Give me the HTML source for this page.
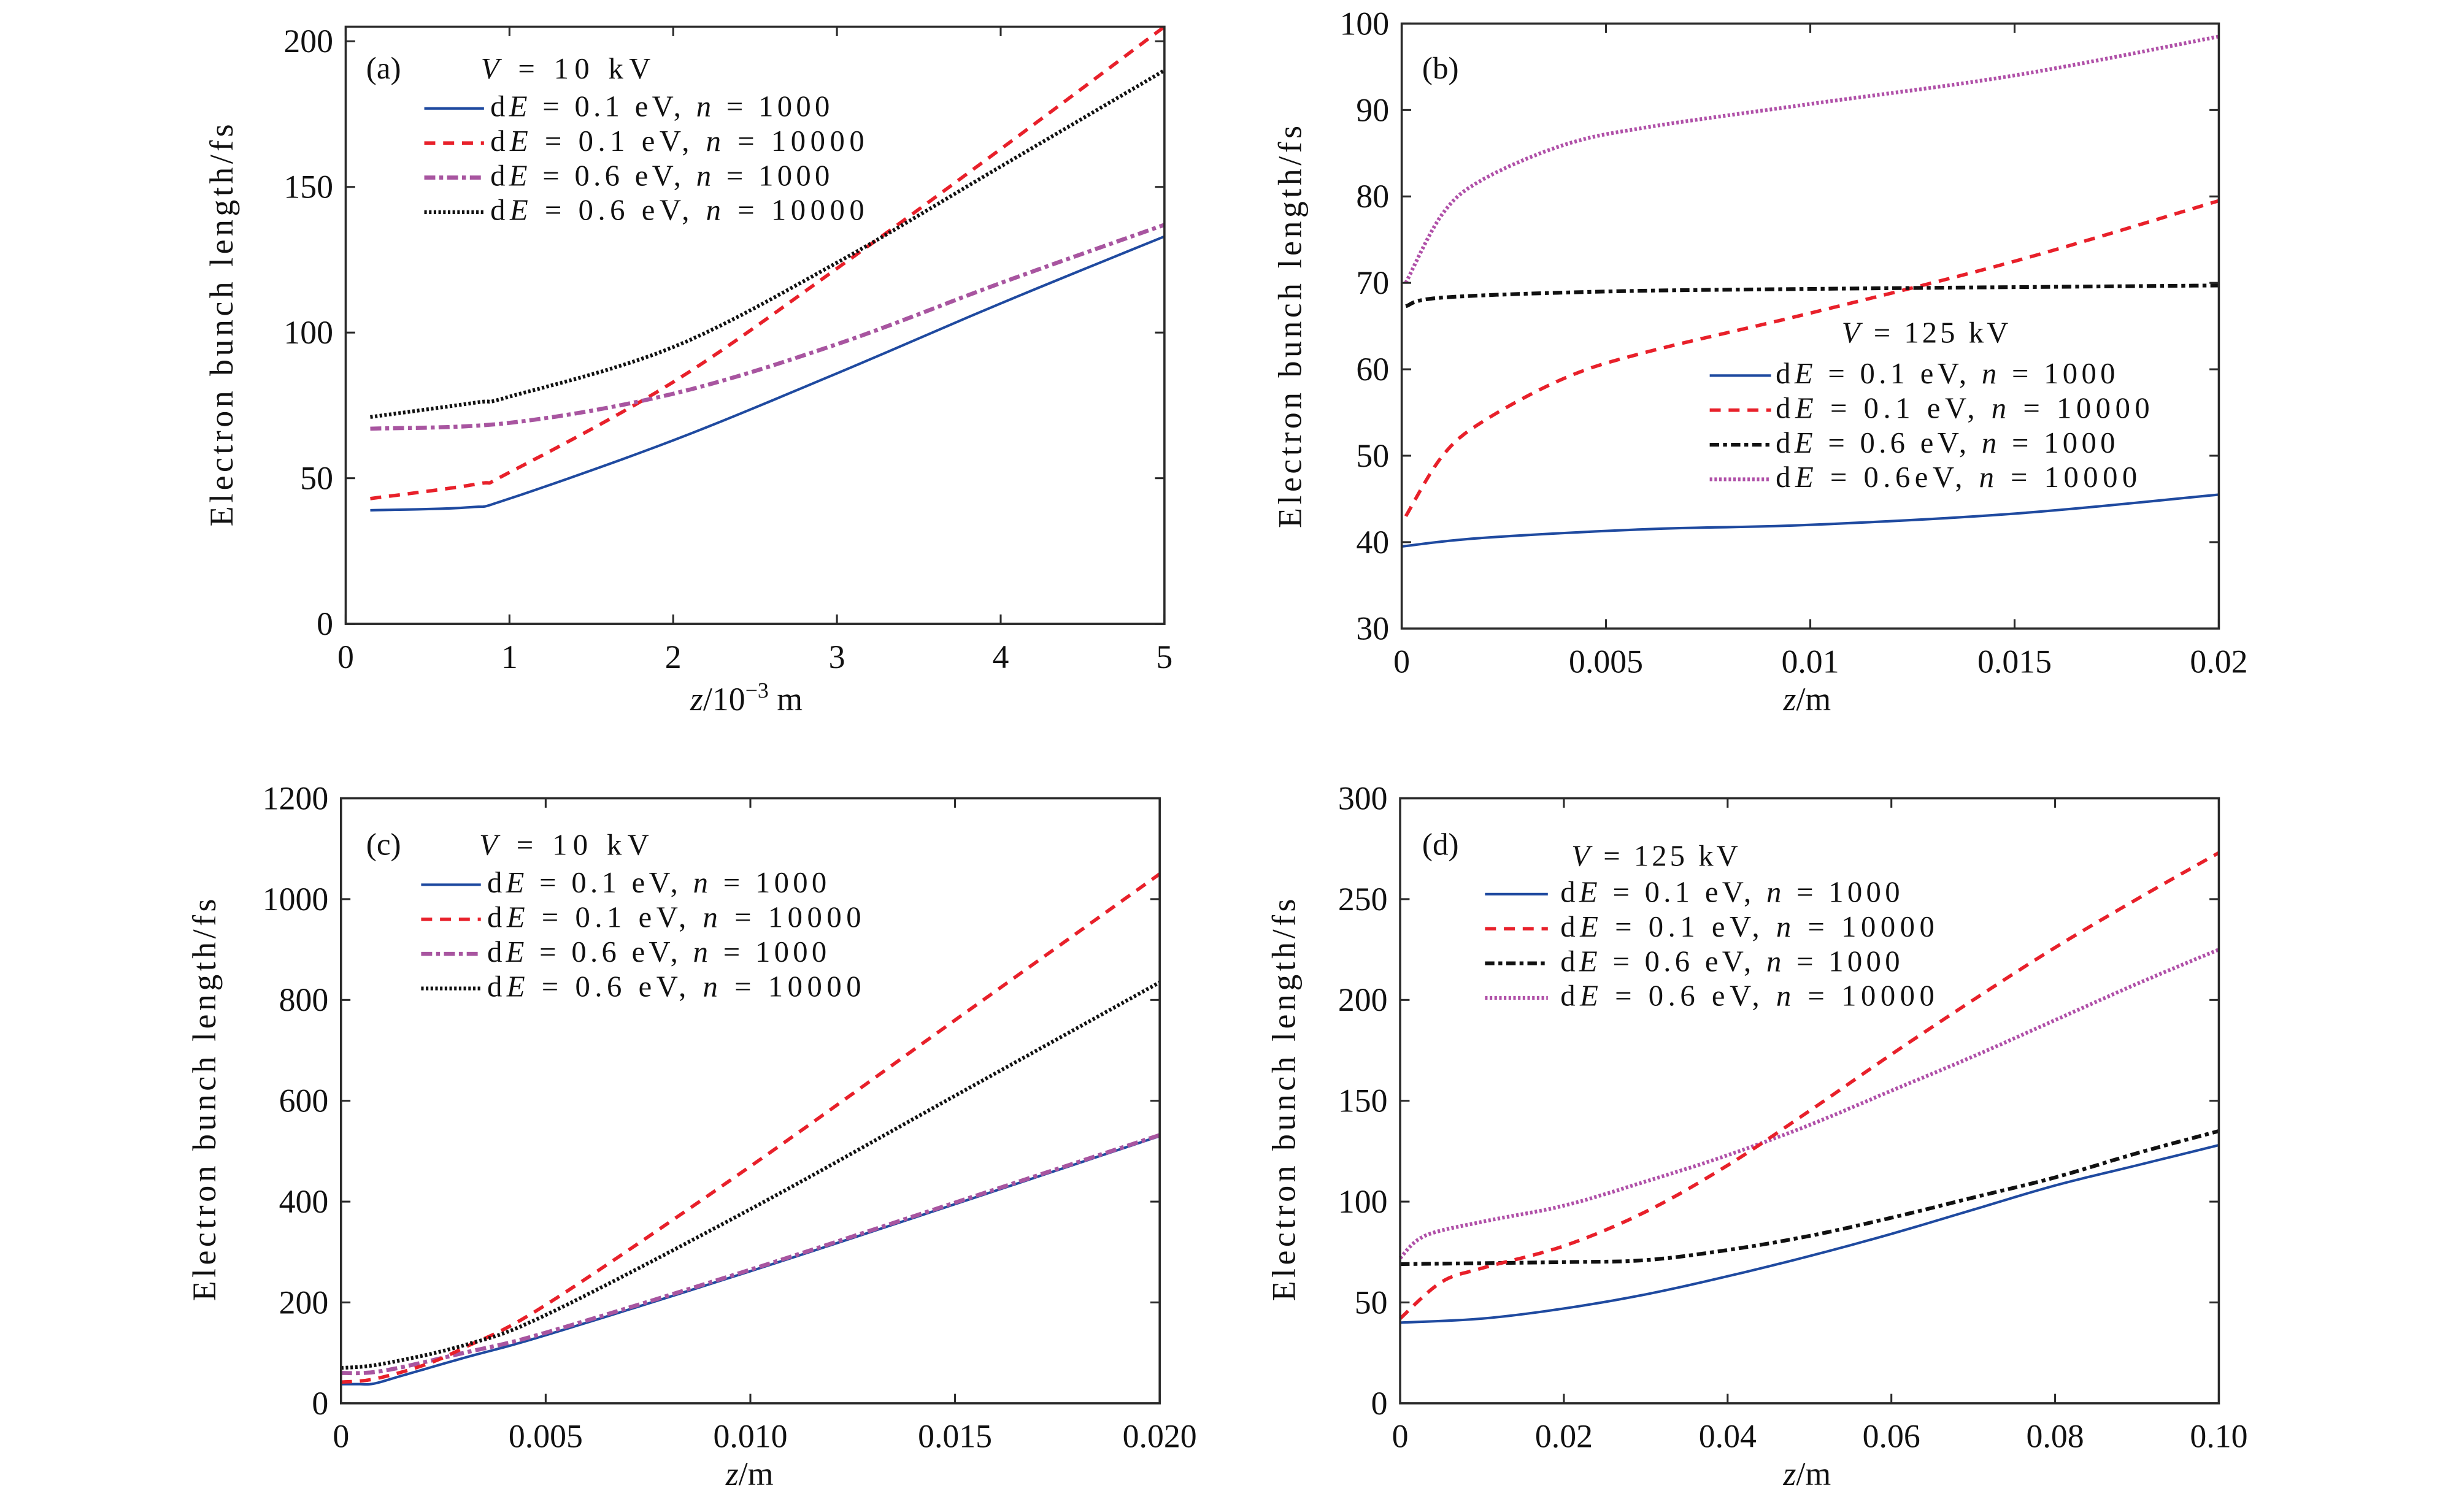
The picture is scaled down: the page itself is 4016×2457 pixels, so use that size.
<!DOCTYPE html>
<html><head><meta charset="utf-8">
<style>
html,body{margin:0;padding:0;background:#fff;}
svg{display:block;}
text{font-family:"Liberation Serif",serif;fill:#111;}
</style></head>
<body>
<svg id="s" xmlns="http://www.w3.org/2000/svg" width="4016" height="2457" viewBox="0 0 1568 959" preserveAspectRatio="none">
<rect width="1568" height="959" fill="#fff"/>
</svg>
<script>
var S=document.getElementById('s'),NS='http://www.w3.org/2000/svg';
function el(t,a,txt){var e=document.createElementNS(NS,t);for(var k in a)e.setAttribute(k,a[k]);if(txt!=null)e.textContent=txt;S.appendChild(e);return e;}
var styles={
 blue:{stroke:'#1f4aa0',w:1.6,d:null},
 red:{stroke:'#e8202a',w:2.2,d:'7,5'},
 purpleDD:{stroke:'#a855a0',w:2.6,d:'7,2.5,2.5,2.5'},
 blackDot:{stroke:'#111',w:2.4,d:'1.6,1.4'},
 blackDD:{stroke:'#111',w:2.4,d:'6,2.5,2.5,2.5'},
 purpleDot:{stroke:'#b050a8',w:2.4,d:'1.6,1.4'}
};
function cr(pts){
 var out=[];for(var i=0;i<pts.length-1;i++){var p0=pts[Math.max(0,i-1)],p1=pts[i],p2=pts[i+1],p3=pts[Math.min(pts.length-1,i+2)];
 for(var t=0;t<1;t+=0.1){var t2=t*t,t3=t2*t;
 var x=0.5*((2*p1[0])+(-p0[0]+p2[0])*t+(2*p0[0]-5*p1[0]+4*p2[0]-p3[0])*t2+(-p0[0]+3*p1[0]-3*p2[0]+p3[0])*t3);
 var y=0.5*((2*p1[1])+(-p0[1]+p2[1])*t+(2*p0[1]-5*p1[1]+4*p2[1]-p3[1])*t2+(-p0[1]+3*p1[1]-3*p2[1]+p3[1])*t3);
 out.push([x,y]);}}
 out.push(pts[pts.length-1]);return out;}
function panel(P){
 var X=function(v){return P.x0+(v-P.xmin)/(P.xmax-P.xmin)*(P.x1-P.x0);};
 var Y=function(v){return P.y1-(v-P.ymin)/(P.ymax-P.ymin)*(P.y1-P.y0);};
 P.series.forEach(function(s){var st=styles[s.s];var pts=cr(s.p.map(function(q){return [X(q[0]),Y(q[1])];}));
  var a={d:'M'+pts.map(function(q){return q[0].toFixed(2)+','+q[1].toFixed(2);}).join('L'),fill:'none',stroke:st.stroke,'stroke-width':st.w};
  if(st.d)a['stroke-dasharray']=st.d;el('path',a);});
 el('rect',{x:P.x0,y:P.y0,width:P.x1-P.x0,height:P.y1-P.y0,fill:'none',stroke:'#2a2a2a','stroke-width':1.4});
 P.xt.forEach(function(t){var x=X(t[0]);el('line',{x1:x,x2:x,y1:P.y1,y2:P.y1-6,stroke:'#2a2a2a','stroke-width':1.2});el('line',{x1:x,x2:x,y1:P.y0,y2:P.y0+6,stroke:'#2a2a2a','stroke-width':1.2});
  el('text',{x:x,y:P.y1+28,'font-size':21,'text-anchor':'middle'},t[1]);});
 P.yt.forEach(function(t){var y=Y(t[0]);el('line',{x1:P.x0,x2:P.x0+6,y1:y,y2:y,stroke:'#2a2a2a','stroke-width':1.2});el('line',{x1:P.x1,x2:P.x1-6,y1:y,y2:y,stroke:'#2a2a2a','stroke-width':1.2});
  el('text',{x:P.x0-8,y:y+7,'font-size':21,'text-anchor':'end'},t[1]);});
 el('text',{x:P.lab[0],y:P.lab[1],'font-size':20},P.lab[2]);
 el('text',{x:-128,y:0,'font-size':21,textLength:256,lengthAdjust:'spacing',transform:'translate('+P.ylab[0]+','+P.ylab[1]+') rotate(-90)'},'Electron bunch length/fs');
 var xl=el('text',{x:P.xlab[0],y:P.xlab[1],'font-size':21,'text-anchor':'middle'});xl.innerHTML=P.xlab[2];
 var L=P.leg;var v=el('text',{x:L.vx,y:L.vy,'font-size':19,textLength:L.v=='10'?108:106,lengthAdjust:'spacing'});v.innerHTML='<tspan font-style="italic">V</tspan> = '+L.v+' kV';
 L.items.forEach(function(it,i){var y=L.y+i*L.dy;var st=styles[it[0]];var a={x1:L.lx0,x2:L.lx1,y1:y-5,y2:y-5,stroke:st.stroke,'stroke-width':st.w};if(st.d)a['stroke-dasharray']=st.d;el('line',a);
  var len=(it[2]=='1000'?216:238)-(it[1]=='0.6eV'?8:0);
  var t=el('text',{x:L.tx,y:y,'font-size':19,textLength:len,lengthAdjust:'spacing'});t.innerHTML='d<tspan font-style="italic">E</tspan> = '+it[1]+', <tspan font-style="italic">n</tspan> = '+it[2];});
}
panel({x0:220,x1:741,y0:17,y1:397,xmin:0,xmax:5,ymin:0,ymax:205,
 xt:[[0,'0'],[1,'1'],[2,'2'],[3,'3'],[4,'4'],[5,'5']],yt:[[0,'0'],[50,'50'],[100,'100'],[150,'150'],[200,'200']],
 lab:[233,50,'(a)'],ylab:[148,207],xlab:[475,452,'<tspan font-style="italic">z</tspan>/10<tspan dy="-8" font-size="14">−3</tspan><tspan dy="8"> m</tspan>'],
 leg:{vx:306,vy:50,v:'10',lx0:270,lx1:308,tx:312,y:74,dy:22,items:[['blue','0.1 eV','1000'],['red','0.1 eV','10000'],['purpleDD','0.6 eV','1000'],['blackDot','0.6 eV','10000']]},
 series:[
 {s:'blue',p:[[0.15,39],[0.75,40],[1,43],[2,63],[3,86],[4,110],[5,133]]},
 {s:'red',p:[[0.15,43],[0.8,48],[1,52],[2,83],[3,122],[4,163],[5,205]]},
 {s:'purpleDD',p:[[0.15,67],[1,69],[2,79],[3,96],[4,117],[5,137]]},
 {s:'blackDot',p:[[0.15,71],[0.8,76],[1,78],[2,95],[3,124],[4,157],[5,190]]}]});
panel({x0:892,x1:1412,y0:15,y1:400,xmin:0,xmax:0.02,ymin:30,ymax:100,
 xt:[[0,'0'],[0.005,'0.005'],[0.01,'0.01'],[0.015,'0.015'],[0.02,'0.02']],yt:[[30,'30'],[40,'40'],[50,'50'],[60,'60'],[70,'70'],[80,'80'],[90,'90'],[100,'100']],
 lab:[905,50,'(b)'],ylab:[828,208],xlab:[1150,452,'<tspan font-style="italic">z</tspan>/m'],
 leg:{vx:1172,vy:218,v:'125',lx0:1088,lx1:1127,tx:1130,y:244,dy:22,items:[['blue','0.1 eV','1000'],['red','0.1 eV','10000'],['blackDD','0.6 eV','1000'],['purpleDot','0.6eV','10000']]},
 series:[
 {s:'purpleDot',p:[[0.0001,70],[0.001,78],[0.002,82],[0.004,86],[0.006,88],[0.01,90.7],[0.015,94],[0.02,98.5]]},
 {s:'red',p:[[0.0001,43],[0.001,50],[0.002,54],[0.004,59],[0.006,62],[0.01,66.5],[0.015,72.5],[0.02,79.5]]},
 {s:'blackDD',p:[[0.0001,67.3],[0.001,68.3],[0.005,69],[0.01,69.3],[0.02,69.7]]},
 {s:'blue',p:[[0,39.5],[0.002,40.5],[0.006,41.5],[0.01,42],[0.015,43.3],[0.02,45.5]]}]});
panel({x0:217,x1:738,y0:508,y1:893,xmin:0,xmax:0.02,ymin:0,ymax:1200,
 xt:[[0,'0'],[0.005,'0.005'],[0.01,'0.010'],[0.015,'0.015'],[0.02,'0.020']],yt:[[0,'0'],[200,'200'],[400,'400'],[600,'600'],[800,'800'],[1000,'1000'],[1200,'1200']],
 lab:[233,544,'(c)'],ylab:[137,700],xlab:[477,945,'<tspan font-style="italic">z</tspan>/m'],
 leg:{vx:305,vy:544,v:'10',lx0:268,lx1:306,tx:310,y:568,dy:22,items:[['blue','0.1 eV','1000'],['red','0.1 eV','10000'],['purpleDD','0.6 eV','1000'],['blackDot','0.6 eV','10000']]},
 series:[
 {s:'blue',p:[[0,38],[0.0004,38],[0.0008,39],[0.0015,55],[0.003,90],[0.005,135],[0.01,262],[0.015,395],[0.02,530]]},
 {s:'purpleDD',p:[[0,60],[0.001,64],[0.003,100],[0.005,140],[0.01,265],[0.015,398],[0.02,532]]},
 {s:'red',p:[[0,42],[0.0008,48],[0.002,75],[0.003,110],[0.005,195],[0.01,470],[0.015,760],[0.02,1050]]},
 {s:'blackDot',p:[[0,70],[0.001,78],[0.003,115],[0.005,175],[0.01,385],[0.015,610],[0.02,835]]}]});
panel({x0:891,x1:1412,y0:508,y1:893,xmin:0,xmax:0.1,ymin:0,ymax:300,
 xt:[[0,'0'],[0.02,'0.02'],[0.04,'0.04'],[0.06,'0.06'],[0.08,'0.08'],[0.1,'0.10']],yt:[[0,'0'],[50,'50'],[100,'100'],[150,'150'],[200,'200'],[250,'250'],[300,'300']],
 lab:[905,544,'(d)'],ylab:[824,700],xlab:[1150,945,'<tspan font-style="italic">z</tspan>/m'],
 leg:{vx:1000,vy:551,v:'125',lx0:945,lx1:985,tx:993,y:574,dy:22,items:[['blue','0.1 eV','1000'],['red','0.1 eV','10000'],['blackDD','0.6 eV','1000'],['purpleDot','0.6 eV','10000']]},
 series:[
 {s:'blue',p:[[0,40],[0.01,42],[0.02,47],[0.03,54],[0.04,63],[0.05,73],[0.06,84],[0.07,96],[0.08,108],[0.09,118],[0.1,128]]},
 {s:'blackDD',p:[[0,69],[0.02,70],[0.03,71],[0.04,76],[0.05,83],[0.06,92],[0.07,102],[0.08,112],[0.09,124],[0.1,135]]},
 {s:'purpleDot',p:[[0,72],[0.003,83],[0.01,90],[0.02,98],[0.03,110],[0.04,123],[0.05,138],[0.06,155],[0.07,172],[0.08,190],[0.09,208],[0.1,225]]},
 {s:'red',p:[[0,42],[0.005,60],[0.01,67],[0.02,78],[0.03,95],[0.04,118],[0.05,145],[0.06,173],[0.07,200],[0.08,226],[0.09,250],[0.1,273]]}]});
</script>
</body></html>
